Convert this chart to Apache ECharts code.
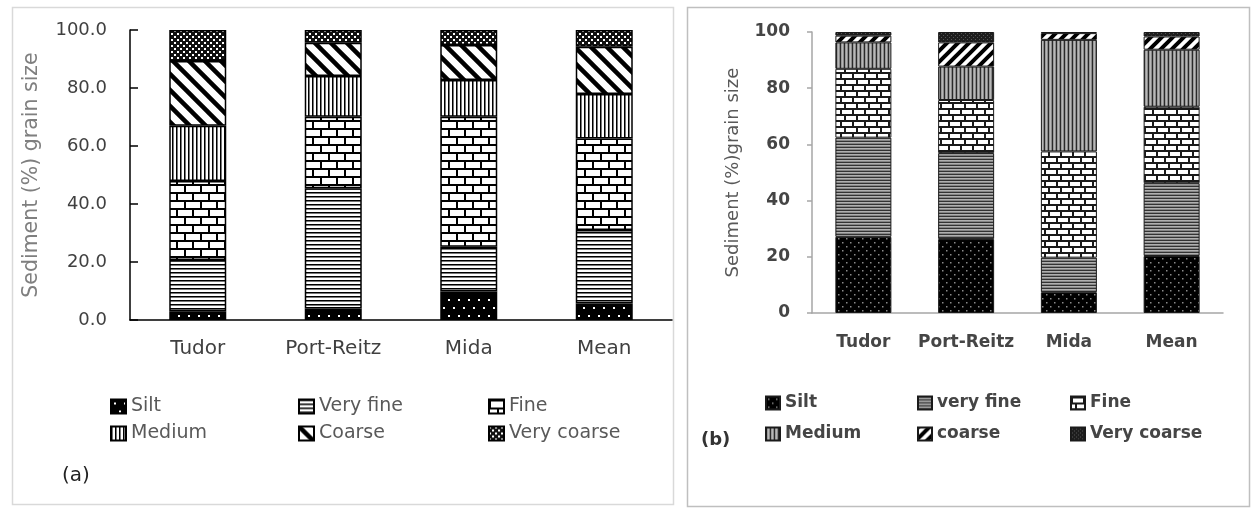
<!DOCTYPE html>
<html>
<head>
<meta charset="utf-8">
<script src="https://cdn.jsdelivr.net/npm/echarts@6/dist/echarts.min.js"></script>
<style>html,body{margin:0;padding:0;background:#fff;}#c{width:1251px;height:508px;}</style>
</head>
<body>
<div id="c"></div>
<script>
// ---- data ----
const categories = ['Tudor', 'Port-Reitz', 'Mida', 'Mean'];
const yTicksA = [0, 20, 40, 60, 80, 100];
const namesA = ['Silt', 'Very fine', 'Fine', 'Medium', 'Coarse', 'Very coarse'];
const namesB = ['Silt', 'very fine', 'Fine', 'Medium', 'coarse', 'Very coarse'];
// panel (a)
const aSilt = [3.0, 4.0, 9.8, 5.7];
const aVeryFine = [17.7, 41.4, 15.5, 25.3];
const aFine = [27.2, 24.7, 44.8, 31.6];
const aMedium = [19.1, 14.0, 12.7, 15.3];
const aCoarse = [22.3, 11.5, 12.0, 16.3];
const aVeryCoarse = [10.7, 4.4, 5.2, 5.8];
// panel (b)
const bSilt = [27.1, 26.3, 7.4, 20.3];
const bVeryFine = [35.3, 30.6, 12.3, 25.9];
const bFine = [24.5, 18.9, 37.8, 27.2];
const bMedium = [9.4, 11.9, 39.7, 20.3];
const bCoarse = [2.4, 8.6, 2.4, 4.7];
const bVeryCoarse = [1.3, 3.7, 0.4, 1.6];

// ---- patterns ----
function pat(w, h, draw) {
  const c = document.createElement('canvas');
  c.width = w; c.height = h;
  const g = c.getContext('2d');
  draw(g, w, h);
  return { image: c, repeat: 'repeat' };
}
const pA = [
  pat(10, 16, (g) => { g.fillStyle = '#000'; g.fillRect(0, 0, 10, 16); g.fillStyle = '#fff'; g.fillRect(3, 3, 2, 2); g.fillRect(8, 11, 2, 2); }),
  pat(4, 4, (g) => { g.fillStyle = '#fff'; g.fillRect(0, 0, 4, 4); g.fillStyle = '#000'; g.fillRect(0, 0, 4, 1); g.fillStyle = '#777'; g.fillRect(0, 1, 4, 1); }),
  pat(16, 16, (g) => { g.fillStyle = '#000'; g.fillRect(0, 0, 16, 16); g.fillStyle = '#fff'; g.fillRect(2, 2, 14, 6); g.fillRect(0, 10, 8, 6); g.fillRect(10, 10, 6, 6); }),
  pat(4, 4, (g) => { g.fillStyle = '#fff'; g.fillRect(0, 0, 4, 4); g.fillStyle = '#000'; g.fillRect(0, 0, 1, 4); g.fillStyle = '#777'; g.fillRect(1, 0, 1, 4); }),
  pat(16, 16, (g) => { g.fillStyle = '#fff'; g.fillRect(0, 0, 16, 16); g.strokeStyle = '#000'; g.lineWidth = 4.5; g.beginPath(); g.moveTo(-4, -4); g.lineTo(20, 20); g.moveTo(-4, 12); g.lineTo(4, 20); g.moveTo(12, -4); g.lineTo(20, 4); g.stroke(); }),
  pat(6, 6, (g) => { g.fillStyle = '#111'; g.fillRect(0, 0, 6, 6); g.fillStyle = '#fff'; g.fillRect(0, 0, 2, 2); g.fillRect(3, 3, 2, 2); })
];
const pB = [
  pat(8, 8, (g) => { g.fillStyle = '#000'; g.fillRect(0, 0, 8, 8); g.fillStyle = '#8a8a8a'; g.fillRect(2, 2, 1.5, 1.5); g.fillRect(6, 6, 1.5, 1.5); }),
  pat(3, 3, (g) => { g.fillStyle = '#333'; g.fillRect(0, 0, 3, 1); g.fillStyle = '#b0b0b0'; g.fillRect(0, 1, 3, 1); g.fillStyle = '#858585'; g.fillRect(0, 2, 3, 1); }),
  pat(12, 12, (g) => { g.fillStyle = '#1a1a1a'; g.fillRect(0, 0, 12, 12); g.fillStyle = '#fff'; g.fillRect(2, 2, 10, 4); g.fillRect(0, 8, 4, 4); g.fillRect(6, 8, 6, 4); }),
  pat(4, 4, (g) => { g.fillStyle = '#2a2a2a'; g.fillRect(0, 0, 1, 4); g.fillStyle = '#9a9a9a'; g.fillRect(1, 0, 1, 4); g.fillStyle = '#b8b8b8'; g.fillRect(2, 0, 1, 4); g.fillStyle = '#8a8a8a'; g.fillRect(3, 0, 1, 4); }),
  pat(11, 11, (g) => { g.fillStyle = '#fff'; g.fillRect(0, 0, 11, 11); g.strokeStyle = '#000'; g.lineWidth = 4; g.beginPath(); g.moveTo(-3, 14); g.lineTo(14, -3); g.moveTo(-3, 3); g.lineTo(3, -3); g.moveTo(8, 14); g.lineTo(14, 8); g.stroke(); }),
  pat(4, 4, (g) => { g.fillStyle = '#1e1e1e'; g.fillRect(0, 0, 4, 4); g.fillStyle = '#555'; g.fillRect(1, 1, 1, 1); g.fillRect(3, 3, 1, 1); })
];

const dataA = [aSilt, aVeryFine, aFine, aMedium, aCoarse, aVeryCoarse];
const dataB = [bSilt, bVeryFine, bFine, bMedium, bCoarse, bVeryCoarse];

const series = [];
namesA.forEach((n, i) => series.push({
  name: 'a|' + n, type: 'bar', stack: 'a', xAxisIndex: 0, yAxisIndex: 0,
  data: dataA[i], barWidth: 57,
  itemStyle: { color: pA[i], borderColor: '#000', borderWidth: 1.5 }
}));
namesB.forEach((n, i) => series.push({
  name: 'b|' + n, type: 'bar', stack: 'b', xAxisIndex: 1, yAxisIndex: 1,
  data: dataB[i], barWidth: 56,
  itemStyle: { color: pB[i], borderColor: '#1a1a1a', borderWidth: 1 }
}));

const FONT = 'DejaVu Sans';
const fmt = (name) => name.split('|')[1];
const legends = [];
const colA = [110, 298, 488], rowA = [404, 431];
namesA.forEach((n, i) => legends.push({
  data: [{ name: 'a|' + n, icon: 'rect' }], left: colA[i % 3], top: rowA[Math.floor(i / 3)] - 7,
  itemWidth: 15, itemHeight: 14, selectedMode: false, formatter: fmt, padding: 0,
  textStyle: { fontSize: 19, color: '#595959', fontFamily: FONT, lineHeight: 14 }
}));
const colB = [765, 917, 1070], rowB = [401, 432];
namesB.forEach((n, i) => legends.push({
  data: [{ name: 'b|' + n, icon: 'rect' }], left: colB[i % 3], top: rowB[Math.floor(i / 3)] - 6.5,
  itemWidth: 14, itemHeight: 13, selectedMode: false, formatter: fmt, padding: 0,
  textStyle: { fontSize: 17, color: '#454545', fontFamily: FONT, fontWeight: 'bold', lineHeight: 13 }
}));

const option = {
  animation: false,
  backgroundColor: '#fff',
  grid: [
    { left: 130, top: 30, width: 542, height: 290 },
    { left: 812, top: 32, width: 411, height: 281 }
  ],
  xAxis: [
    {
      type: 'category', gridIndex: 0, data: categories,
      axisLine: { lineStyle: { color: '#000', width: 1.5 } },
      axisTick: { inside: true, length: 7, lineStyle: { color: '#000', width: 1.5 } },
      axisLabel: { interval: 0, fontSize: 20, color: '#404040', margin: 19, fontFamily: FONT }
    },
    {
      type: 'category', gridIndex: 1, data: categories,
      axisLine: { lineStyle: { color: '#a6a6a6', width: 1.5 } },
      axisTick: { inside: false, length: 6, lineStyle: { color: '#a6a6a6', width: 1.5 } },
      axisLabel: { interval: 0, hideOverlap: false, fontSize: 17, color: '#454545', margin: 21, fontFamily: FONT, fontWeight: 'bold' }
    }
  ],
  yAxis: [
    {
      type: 'value', gridIndex: 0, min: yTicksA[0], max: yTicksA[yTicksA.length - 1], interval: 20,
      axisLine: { show: true, lineStyle: { color: '#000', width: 1.5 } },
      axisTick: { show: true, inside: true, length: 8, lineStyle: { color: '#000', width: 1.5 } },
      splitLine: { show: false },
      axisLabel: { formatter: (v) => v.toFixed(1), margin: 23, fontSize: 18, color: '#404040', fontFamily: FONT },
      name: 'Sediment (%) grain size', nameLocation: 'middle', nameGap: 88,
      nameTextStyle: { fontSize: 20.5, color: '#7f7f7f', fontFamily: FONT }
    },
    {
      type: 'value', gridIndex: 1, min: 0, max: 100, interval: 20,
      axisLine: { show: true, lineStyle: { color: '#a6a6a6', width: 1.5 } },
      axisTick: { show: true, inside: false, length: 5, lineStyle: { color: '#a6a6a6', width: 1.5 } },
      splitLine: { show: false },
      axisLabel: { margin: 22, fontSize: 17, color: '#454545', fontFamily: FONT, fontWeight: 'bold' },
      name: 'Sediment (%)grain size', nameLocation: 'middle', nameGap: 70,
      nameTextStyle: { fontSize: 18, color: '#595959', fontFamily: FONT }
    }
  ],
  legend: legends,
  series: series,
  graphic: [
    { type: 'rect', silent: true, z: -10, shape: { x: 12.5, y: 7.5, width: 661, height: 497 }, style: { fill: 'none', stroke: '#d9d9d9', lineWidth: 1.5 } },
    { type: 'rect', silent: true, z: -10, shape: { x: 687.5, y: 7.5, width: 562, height: 499 }, style: { fill: 'none', stroke: '#bfbfbf', lineWidth: 1.5 } },
    { type: 'text', x: 62, y: 476, style: { text: '(a)', fontSize: 20, fontFamily: FONT, fill: '#222', verticalAlign: 'middle' } },
    { type: 'text', x: 701, y: 440, style: { text: '(b)', fontSize: 18, fontWeight: 'bold', fontFamily: FONT, fill: '#333', verticalAlign: 'middle' } }
  ]
};
const chart = echarts.init(document.getElementById('c'), null, { renderer: 'canvas' });
chart.setOption(option);
</script>
</body>
</html>
